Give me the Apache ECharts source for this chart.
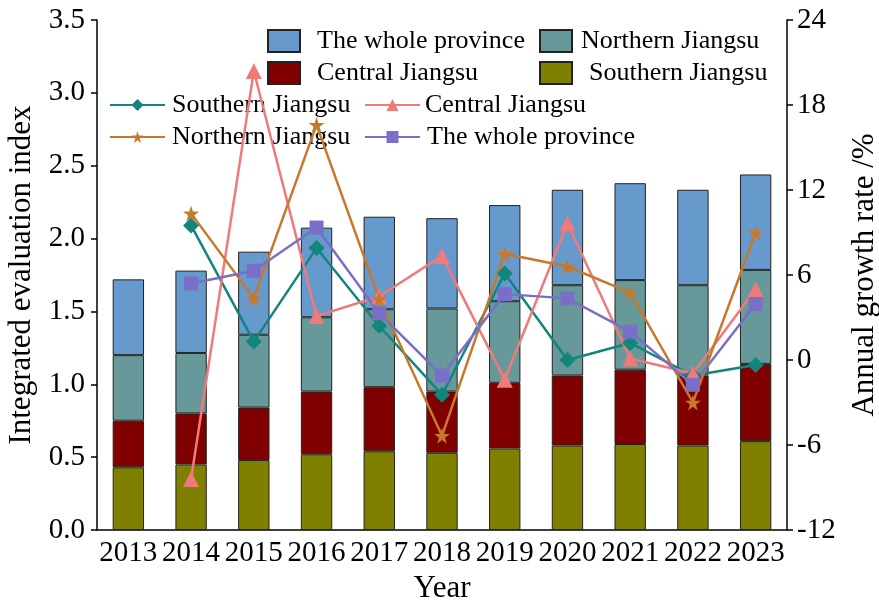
<!DOCTYPE html>
<html>
<head>
<meta charset="utf-8">
<script src="https://cdn.jsdelivr.net/npm/echarts@6/dist/echarts.min.js"></script>
<style>
  html, body { margin: 0; padding: 0; background: #fff; }
  #chart { width: 879px; height: 605px; }
</style>
</head>
<body>
<div id="chart"></div>
<script>
// 年份
var years = ['2013', '2014', '2015', '2016', '2017', '2018', '2019', '2020', '2021', '2022', '2023'];

// 综合评价指数 (堆叠柱, 每段的值)
var southernIdx = [0.43, 0.45, 0.48, 0.52, 0.54, 0.53, 0.56, 0.58, 0.59, 0.58, 0.61];
var centralIdx  = [0.32, 0.35, 0.36, 0.43, 0.44, 0.42, 0.45, 0.48, 0.51, 0.48, 0.53];
var northernIdx = [0.45, 0.415, 0.50, 0.51, 0.535, 0.57, 0.56, 0.62, 0.615, 0.62, 0.645];
var wholeIdx    = [0.52, 0.565, 0.57, 0.615, 0.635, 0.62, 0.66, 0.655, 0.665, 0.655, 0.655];

// 年增长率 %
var southernRate = [null, 9.5, 1.3, 7.9, 2.4, -2.45, 6.1, 0.0, 1.2, -1.1, -0.35];
var centralRate  = [null, -8.4, 20.4, 3.1, 4.5, 7.35, -1.4, 9.65, 0.1, -0.95, 5.0];
var northernRate = [null, 10.35, 4.35, 16.6, 4.3, -5.35, 7.5, 6.6, 4.75, -3.0, 9.0];
var wholeRate    = [null, 5.4, 6.3, 9.35, 3.3, -1.1, 4.65, 4.35, 2.0, -1.75, 3.95];

var FONT = 'Liberation Serif';
var starPath = 'path://M50,0 L61,35 L98,35 L68,57 L79,91 L50,70 L21,91 L32,57 L2,35 L39,35 Z';

function barSeries(name, data, color) {
	return {
		name: name + ' (index)',
		type: 'bar',
		stack: 'idx',
		barWidth: '50%',
		itemStyle: { color: color, borderColor: '#222', borderWidth: 1 },
		data: data
	};
}

function lineSeries(name, data, color, symbol, size) {
	return {
		name: name + ' (rate)',
		type: 'line',
		yAxisIndex: 1,
		z: 5,
		symbol: symbol,
		symbolSize: size,
		connectNulls: false,
		lineStyle: { color: color, width: 2.5 },
		itemStyle: { color: color },
		data: data
	};
}

// 图例项: [名称, 文字左边距]
function legendOf(left, top, items, w, h, gap, icon) {
	return {
		left: left,
		top: top,
		orient: 'vertical',
		itemWidth: w,
		itemHeight: h,
		itemGap: gap,
		icon: icon,
		z: 1,
		selectedMode: false,
		data: items.map(function (it) {
			return { name: it[0], textStyle: { padding: [0, 0, 0, it[1]] } };
		}),
		formatter: function (n) { return n.replace(/ \((index|rate)\)$/, ''); },
		textStyle: { fontFamily: FONT, fontSize: 26, color: '#000', lineHeight: 26 }
	};
}

var axisText = { fontFamily: FONT, fontSize: 31, color: '#000' };
var axisLine = { show: true, lineStyle: { color: '#000', width: 1.5 } };

var option = {
	animation: false,
	backgroundColor: '#fff',
	grid: { left: 97, right: 92, top: 20, bottom: 75, containLabel: false, outerBoundsMode: 'none' },
	legend: [
		legendOf(262, 23, [['The whole province (index)', 12], ['Central Jiangsu (index)', 12]], 32, 22, 6, 'rect'),
		legendOf(534, 23, [['Northern Jiangsu (index)', 4], ['Southern Jiangsu (index)', 12]], 32, 22, 6, 'rect'),
		legendOf(104, 87, [['Southern Jiangsu (rate)', 2], ['Northern Jiangsu (rate)', 2]], 55, 15, 6),
		legendOf(359, 87, [['Central Jiangsu (rate)', 0], ['The whole province (rate)', 2]], 55, 15, 6)
	],
	xAxis: {
		type: 'category',
		data: years,
		name: 'Year',
		nameLocation: 'middle',
		nameGap: 43,
		nameTextStyle: axisText,
		axisLine: axisLine,
		axisTick: { alignWithLabel: true, length: 6, lineStyle: { color: '#000', width: 1.5 } },
		axisLabel: { fontFamily: FONT, fontSize: 29, color: '#000', margin: 9, interval: 0 }
	},
	yAxis: [
		{
			type: 'value',
			min: 0,
			max: 3.5,
			interval: 0.5,
			name: 'Integrated evaluation index',
			nameLocation: 'middle',
			nameRotate: 90,
			nameGap: 60,
			nameTextStyle: axisText,
			axisLine: axisLine,
			axisTick: { show: true, length: 6, lineStyle: { color: '#000', width: 1.5 } },
			axisLabel: { fontFamily: FONT, fontSize: 29, color: '#000', margin: 12, formatter: function (v) { return v.toFixed(1); } },
			splitLine: { show: false }
		},
		{
			type: 'value',
			min: -12,
			max: 24,
			interval: 6,
			position: 'right',
			name: 'Annual growth rate /%',
			nameLocation: 'middle',
			nameRotate: 90,
			nameGap: 62,
			nameTextStyle: axisText,
			axisLine: axisLine,
			axisTick: { show: true, length: 6, lineStyle: { color: '#000', width: 1.5 } },
			axisLabel: { fontFamily: FONT, fontSize: 29, color: '#000', margin: 10 },
			splitLine: { show: false }
		}
	],
	series: [
		barSeries('Southern Jiangsu', southernIdx, '#808000'),
		barSeries('Central Jiangsu', centralIdx, '#800000'),
		barSeries('Northern Jiangsu', northernIdx, '#67999a'),
		barSeries('The whole province', wholeIdx, '#6699cc'),
		lineSeries('Southern Jiangsu', southernRate, '#12857c', 'diamond', 16),
		lineSeries('Central Jiangsu', centralRate, '#f07a7a', 'triangle', 16),
		lineSeries('Northern Jiangsu', northernRate, '#c8782a', starPath, 16),
		lineSeries('The whole province', wholeRate, '#7a6fc8', 'rect', 14)
	]
};

var myChart = echarts.init(document.getElementById('chart'));
myChart.setOption(option);
</script>
</body>
</html>
